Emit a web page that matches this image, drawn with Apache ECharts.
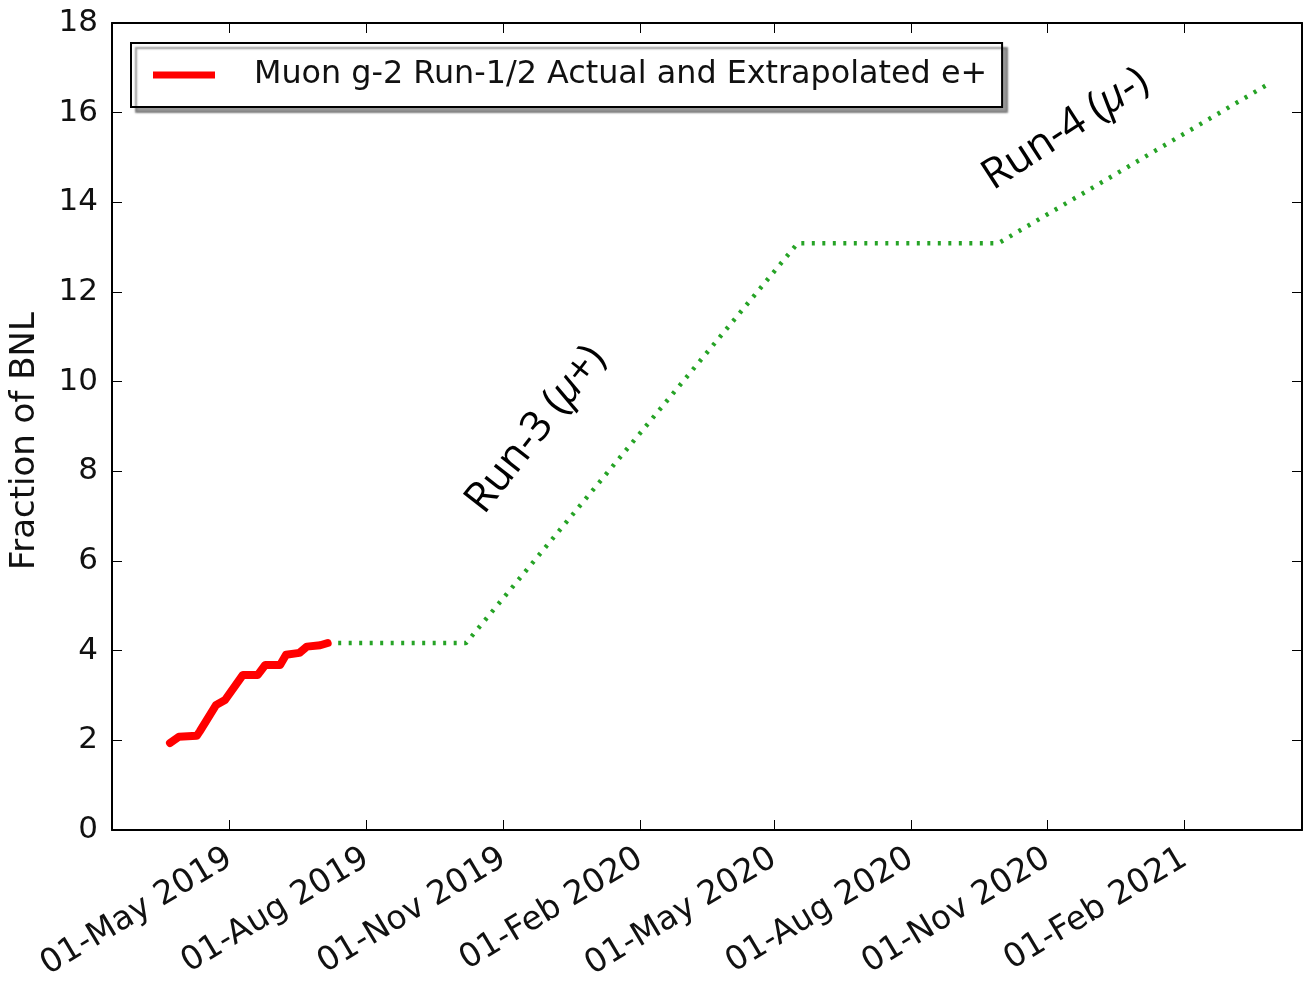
<!DOCTYPE html>
<html>
<head>
<meta charset="utf-8">
<script src="https://cdn.jsdelivr.net/npm/echarts@6/dist/echarts.min.js"></script>
<style>
  html, body { margin: 0; padding: 0; background: #fff; }
  #chart { width: 1307px; height: 987px; }
</style>
</head>
<body>
<div id="chart"></div>
<script>
// Actual Run-1/2 positron statistics (fraction of the BNL data set)
const actualDates  = ['2019-03-22','2019-03-28','2019-04-09','2019-04-11','2019-04-22','2019-04-28','2019-05-10','2019-05-20','2019-05-25','2019-06-04','2019-06-08','2019-06-17','2019-06-22','2019-07-01','2019-07-06'];
const actualValues = [1.94, 2.08, 2.10, 2.20, 2.79, 2.90, 3.46, 3.46, 3.68, 3.68, 3.91, 3.95, 4.09, 4.12, 4.17];

// Extrapolated running: shutdown, Run-3, shutdown, Run-4
const projDates  = ['2019-07-06','2019-10-07','2020-05-17','2020-09-29','2021-03-31'];
const projValues = [4.17, 4.17, 13.09, 13.09, 16.67];

// Run annotations, anchored in data coordinates
const runLabels = ['Run-3', 'Run-4'];
const runSigns  = ['+', '-'];
const runDates  = ['2019-11-23', '2020-11-13'];
const runValues = [8.93, 15.63];

// Axis ranges and tick marks
const xRange = ['2019-02-11', '2021-04-21'];
const xTickDates = ['2019-05-01','2019-08-01','2019-11-01','2020-02-01','2020-05-01','2020-08-01','2020-11-01','2021-02-01'];
const yTicks = [0, 2, 4, 6, 8, 10, 12, 14, 16, 18];

const legendName = 'Muon g-2 Run-1/2 Actual and Extrapolated e+';
const yName = 'Fraction of BNL';

const MONTHS = ['Jan','Feb','Mar','Apr','May','Jun','Jul','Aug','Sep','Oct','Nov','Dec'];
const ts = s => { const [y, m, d] = s.split('-').map(Number); return Date.UTC(y, m - 1, d); };
const fmtDate = v => {
  const d = new Date(v);
  return String(d.getUTCDate()).padStart(2, '0') + '-' + MONTHS[d.getUTCMonth()] + ' ' + d.getUTCFullYear();
};

const FONT = 'DejaVu Sans';
const tickTs = xTickDates.map(ts);

// Dates are plotted on a linear millisecond axis so ticks can sit on the 1st of each quarter month
const xCommon = {
  type: 'value', min: ts(xRange[0]), max: ts(xRange[1]), scale: true,
  splitLine: { show: false },
  axisLine: { show: true, onZero: false, lineStyle: { color: '#000', width: 2 } },
  axisTick: { show: true, inside: true, length: 10, customValues: tickTs, lineStyle: { color: '#000', width: 1 } }
};
const yCommon = {
  type: 'value', min: yTicks[0], max: yTicks[yTicks.length - 1], interval: 2,
  splitLine: { show: false },
  axisLine: { show: true, onZero: false, lineStyle: { color: '#000', width: 2 } },
  axisTick: { show: true, inside: true, length: 10, lineStyle: { color: '#000', width: 1 } }
};

const plainText = { fontFamily: 'Open Sans', fontSize: 42, fontWeight: 500, color: '#000', textBorderWidth: 0, textBorderColor: 'transparent' };
const runLabel = (i, angle) => ({
  show: true, position: 'inside', rotate: angle, align: 'center', verticalAlign: 'middle',
  color: '#000', opacity: 1, textBorderWidth: 0, textBorderColor: 'transparent',
  formatter: '{t|' + runLabels[i] + ' (}{m|\u03bc}{t|' + runSigns[i] + ')}',
  rich: {
    t: plainText,
    m: Object.assign({}, plainText, { fontStyle: 'italic' })
  }
});

const chart = echarts.init(document.getElementById('chart'), null, { renderer: 'canvas' });
chart.setOption({
  animation: false,
  backgroundColor: '#fff',
  grid: { left: 112, right: 5, top: 23, bottom: 157, containLabel: false },
  legend: {
    left: 131, top: 43,
    orient: 'horizontal',
    padding: [14, 15, 14, 22],
    backgroundColor: '#fff',
    borderColor: '#000', borderWidth: 2, borderRadius: 0,
    shadowColor: 'rgba(0,0,0,0.4)', shadowBlur: 2, shadowOffsetX: 5, shadowOffsetY: 5,
    itemWidth: 62, itemHeight: 7,
    icon: 'rect',
    selectedMode: false,
    data: [{ name: legendName, icon: 'rect' }],
    textStyle: { fontFamily: FONT, fontSize: 31.8, color: '#111', padding: [0, 0, 0, 34], lineHeight: 36 }
  },
  xAxis: [
    Object.assign({}, xCommon, {
      position: 'bottom',
      axisLabel: {
        show: true, customValues: tickTs, rotate: 31, margin: 26,
        fontFamily: FONT, fontSize: 33, color: '#111',
        formatter: v => fmtDate(v)
      }
    }),
    Object.assign({}, xCommon, { position: 'top', axisLabel: { show: false } })
  ],
  yAxis: [
    Object.assign({}, yCommon, {
      position: 'left',
      name: yName, nameLocation: 'middle', nameGap: 70,
      nameTextStyle: { fontFamily: FONT, fontSize: 34, color: '#111', padding: [0, 29, 0, 0] },
      axisLabel: { show: true, margin: 14, fontFamily: FONT, fontSize: 31, color: '#111' }
    }),
    Object.assign({}, yCommon, { position: 'right', axisLabel: { show: false } })
  ],
  series: [
    {
      name: 'Projection', type: 'line', xAxisIndex: 0, yAxisIndex: 0,
      data: projDates.map((d, i) => [ts(d), projValues[i]]),
      showSymbol: false, symbol: 'none', silent: true, z: 2,
      lineStyle: { color: '#26a326', width: 4.5, type: [3, 7.5], cap: 'butt' }
    },
    {
      name: legendName, type: 'line', xAxisIndex: 0, yAxisIndex: 0,
      data: actualDates.map((d, i) => [ts(d), actualValues[i]]),
      showSymbol: false, symbol: 'none', silent: true, z: 3,
      itemStyle: { color: '#ff0000' },
      lineStyle: { color: '#ff0000', width: 8, cap: 'round', join: 'round' }
    },
    {
      name: 'Run-3', type: 'scatter', xAxisIndex: 0, yAxisIndex: 0,
      data: [[ts(runDates[0]), runValues[0]]],
      symbolSize: 0, silent: true, z: 4,
      itemStyle: { color: '#000', opacity: 1 },
      label: runLabel(0, 52)
    },
    {
      name: 'Run-4', type: 'scatter', xAxisIndex: 0, yAxisIndex: 0,
      data: [[ts(runDates[1]), runValues[1]]],
      symbolSize: 0, silent: true, z: 4,
      itemStyle: { color: '#000', opacity: 1 },
      label: runLabel(1, 33)
    }
  ]
});
</script>
</body>
</html>
